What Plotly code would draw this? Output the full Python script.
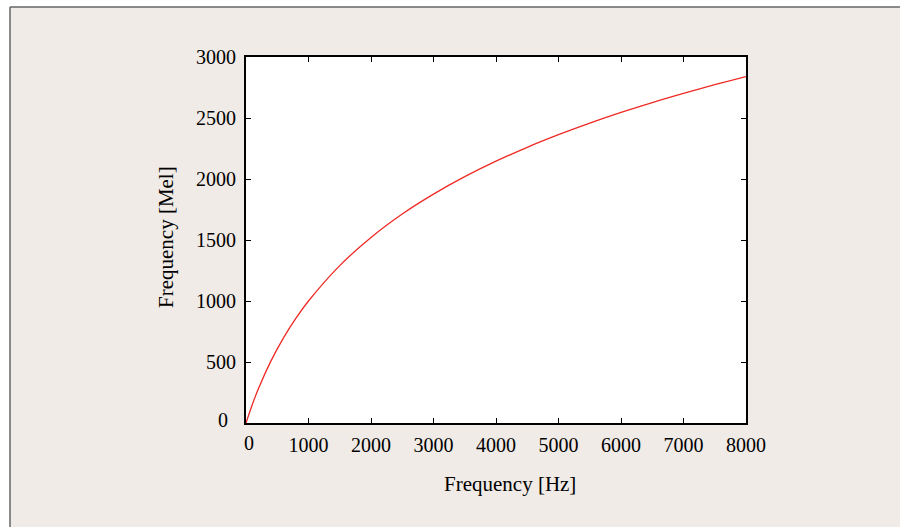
import plotly.graph_objects as go

# Values
freq_hz = [0, 100, 200, 400, 600, 800, 1000, 1500, 2000, 2500, 3000, 3500,
           4000, 4500, 5000, 5500, 6000, 6500, 7000, 7500, 8000]
freq_mel = [0, 150, 283, 509, 698, 859, 1000, 1290, 1521, 1713, 1876, 2019,
            2146, 2260, 2363, 2458, 2546, 2627, 2702, 2773, 2840]

x_ticks = [0, 1000, 2000, 3000, 4000, 5000, 6000, 7000, 8000]
y_ticks = [0, 500, 1000, 1500, 2000, 2500, 3000]
x_title = "Frequency [Hz]"
y_title = "Frequency [Mel]"

W, H = 900, 527
L, R, T, B = 246, 746, 57, 423
pw, ph = R - L, B - T

def px(x):
    return (x - L) / pw

def py(y):
    return (B - y) / ph

font = "Liberation Serif, Times New Roman, serif"
beige = "#f0ebe6"

fig = go.Figure()
fig.add_trace(go.Scatter(
    x=freq_hz, y=freq_mel, mode="lines",
    line=dict(color="#ee2a24", width=1.3, shape="spline"),
    showlegend=False, hoverinfo="skip",
))

axis_common = dict(
    showline=True, linecolor="black", linewidth=2, mirror="ticks",
    ticks="inside", ticklen=5, tickwidth=1.2, tickcolor="black",
    showgrid=False, zeroline=False,
    tickfont=dict(family=font, size=20, color="black"),
)

# the two "0" labels are placed separately (offset like in the reference)
x_ticktext = ["" if v == 0 else str(v) for v in x_ticks]
y_ticktext = ["" if v == 0 else str(v) for v in y_ticks]

fig.update_layout(
    width=W, height=H,
    margin=dict(l=L, r=W - R, t=T, b=H - B),
    paper_bgcolor=beige, plot_bgcolor="white",
    xaxis=dict(range=[0, 8000], tickvals=x_ticks, ticktext=x_ticktext,
               ticklabelstandoff=3, **axis_common),
    yaxis=dict(range=[0, 3000], tickvals=y_ticks, ticktext=y_ticktext,
               ticklabelstandoff=4, **axis_common),
    annotations=[
        dict(text=x_title, xref="paper", yref="paper", x=px(510), y=py(484),
             xanchor="center", yanchor="middle", showarrow=False,
             font=dict(family=font, size=21, color="black")),
        dict(text=y_title, xref="paper", yref="paper", x=px(166), y=py(237),
             xanchor="center", yanchor="middle", showarrow=False, textangle=-90,
             font=dict(family=font, size=21, color="black")),
        dict(text=str(x_ticks[0]), xref="paper", yref="paper", x=px(249),
             y=py(443), xanchor="center", yanchor="middle", showarrow=False,
             font=dict(family=font, size=20, color="black")),
        dict(text=str(y_ticks[0]), xref="paper", yref="paper", x=px(223), y=py(420),
             xanchor="center", yanchor="middle", showarrow=False,
             font=dict(family=font, size=20, color="black")),
    ],
    shapes=[
        dict(type="rect", xref="paper", yref="paper", x0=px(-5), x1=px(10), y0=py(-5), y1=py(H + 5),
             fillcolor="white", line=dict(width=0), layer="above"),
        dict(type="rect", xref="paper", yref="paper", x0=px(-5), x1=px(W + 5), y0=py(-5), y1=py(7),
             fillcolor="white", line=dict(width=0), layer="above"),
        dict(type="line", xref="paper", yref="paper", x0=px(10), x1=px(10), y0=py(7), y1=py(H + 5),
             line=dict(color="#666666", width=1.5), layer="above"),
        dict(type="line", xref="paper", yref="paper", x0=px(10), x1=px(W + 5), y0=py(7), y1=py(7),
             line=dict(color="#666666", width=1.5), layer="above"),
    ],
)

fig.write_html(
    "out.html",
    config={"displayModeBar": False},
    post_script="document.body.style.margin='0';document.body.style.overflow='hidden';",
)
